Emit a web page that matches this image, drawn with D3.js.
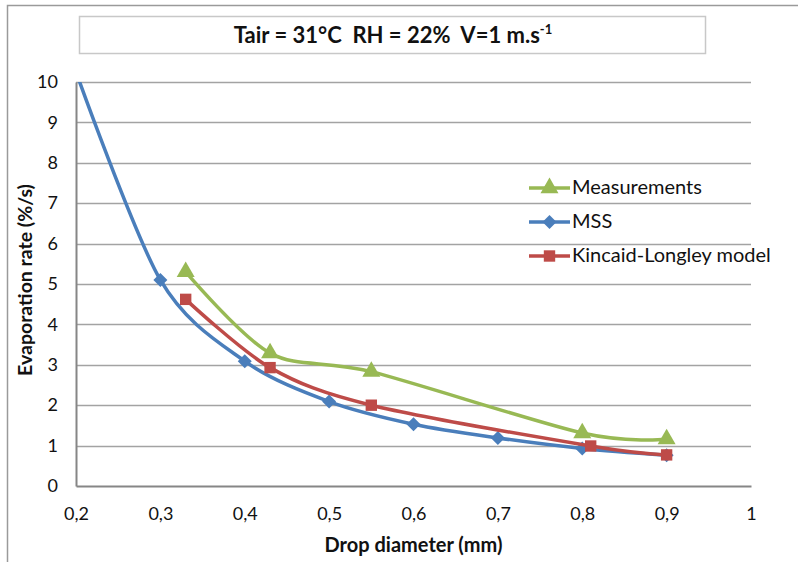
<!DOCTYPE html>
<html>
<head>
<meta charset="utf-8">
<script src="https://cdn.jsdelivr.net/npm/d3@7"></script>
<style>
  body { margin: 0; background: #fff; }
  svg { display: block; font-family: Lato, 'Open Sans', sans-serif; }
</style>
</head>
<body>
<div id="chart"></div>
<script>
const X_TICKS = [0.2, 0.3, 0.4, 0.5, 0.6, 0.7, 0.8, 0.9, 1]
const Y_TICKS = [0, 1, 2, 3, 4, 5, 6, 7, 8, 9, 10]

// MSS model: first point lies just above the axis max and is clipped
const MSS_X = [0.2, 0.3, 0.4, 0.5, 0.6, 0.7, 0.8, 0.9]
const MSS_Y = [10.25, 5.1, 3.09, 2.09, 1.53, 1.19, 0.93, 0.76]

const MEAS_X = [0.33, 0.43, 0.55, 0.8, 0.9]
const MEAS_Y = [5.3, 3.29, 2.83, 1.31, 1.16]

const KL_X = [0.33, 0.43, 0.55, 0.81, 0.9]
const KL_Y = [4.62, 2.93, 2.0, 0.99, 0.77]

const SERIES = [
  { name: 'Measurements', xs: MEAS_X, ys: MEAS_Y, color: '#98b954', marker: 'triangle' },
  { name: 'MSS', xs: MSS_X, ys: MSS_Y, color: '#4a7ebb', marker: 'diamond' },
  { name: 'Kincaid-Longley model', xs: KL_X, ys: KL_Y, color: '#be4b48', marker: 'square' }
]

const W = 798
const H = 562
const margin = { top: 82, right: 47, bottom: 76, left: 76 }

const svg = d3.select('#chart').append('svg')
  .attr('width', W)
  .attr('height', H)

// outer chart frame (only top and left visible in the crop)
svg.append('path')
  .attr('d', `M7.5,${H} V5.5 H${W}`)
  .attr('fill', 'none')
  .attr('stroke', '#9a9a9a')
  .attr('stroke-width', 1.5)

const x = d3.scaleLinear().domain([0.2, 1]).range([margin.left, W - margin.right])
const y = d3.scaleLinear().domain([0, 10]).range([H - margin.bottom, margin.top])

// title box
svg.append('rect')
  .attr('x', 79.5).attr('y', 16.5)
  .attr('width', 626).attr('height', 37)
  .attr('fill', '#fff')
  .attr('stroke', '#c8c8c8')
  .attr('stroke-width', 1.5)

const title = svg.append('text')
  .attr('x', 393).attr('y', 43)
  .attr('text-anchor', 'middle')
  .attr('font-size', 22)
  .attr('font-weight', 'bold')
  .attr('fill', '#111')
  .style('white-space', 'pre')
title.append('tspan').text('Tair = 31°C  RH = 22%  V=1 m.s')
title.append('tspan').attr('dy', -9).attr('font-size', 13).text('-1')

// gridlines
svg.append('g')
  .selectAll('line')
  .data(Y_TICKS.filter(d => d > 0))
  .join('line')
  .attr('x1', x(0.2)).attr('x2', x(1))
  .attr('y1', d => Math.round(y(d)) + 0.5).attr('y2', d => Math.round(y(d)) + 0.5)
  .attr('stroke', '#a3a3a3')
  .attr('stroke-width', 1.5)

// axes
const yAxis = svg.append('g')
  .attr('transform', `translate(${x(0.2)},0)`)
  .call(d3.axisLeft(y).tickValues(Y_TICKS).tickSize(0).tickPadding(18).tickFormat(d3.format('d')))
yAxis.select('.domain').attr('stroke', '#868686').attr('stroke-width', 2)
yAxis.selectAll('text').attr('font-size', 18).attr('fill', '#111').attr('font-family', 'Lato, sans-serif')

const xAxis = svg.append('g')
  .attr('transform', `translate(0,${y(0)})`)
  .call(d3.axisBottom(x).tickValues(X_TICKS).tickSize(0).tickPadding(21)
    .tickFormat(d => d === 1 ? '1' : d3.format('.1f')(d).replace('.', ',')))
xAxis.select('.domain').attr('stroke', '#868686').attr('stroke-width', 2)
xAxis.selectAll('text').attr('font-size', 18).attr('fill', '#111').attr('font-family', 'Lato, sans-serif')

svg.append('text')
  .attr('text-anchor', 'middle')
  .attr('transform', `translate(32, ${(y(0) + y(10)) / 2 - 4}) rotate(-90)`)
  .attr('font-size', 19.5)
  .attr('font-weight', 'bold')
  .attr('fill', '#111')
  .text('Evaporation rate (%/s)')

svg.append('text')
  .attr('x', (x(0.2) + x(1)) / 2)
  .attr('y', 552)
  .attr('text-anchor', 'middle')
  .attr('font-size', 20)
  .attr('font-weight', 'bold')
  .attr('fill', '#111')
  .text('Drop diameter (mm)')

// series
svg.append('clipPath').attr('id', 'plot-clip')
  .append('rect')
  .attr('x', x(0.2)).attr('y', y(10))
  .attr('width', x(1) - x(0.2)).attr('height', y(0) - y(10))

const symbolFor = m => m === 'triangle' ? d3.symbolTriangle : m === 'diamond' ? d3.symbolDiamond2 : d3.symbolSquare2
const sizeFor = m => m === 'triangle' ? 140 : m === 'diamond' ? 125 : 165

const plot = svg.append('g').attr('clip-path', 'url(#plot-clip)')
const line = d3.line()
  .x(d => x(d[0]))
  .y(d => y(d[1]))
  .curve(d3.curveCardinal.tension(0.1))

const order = [SERIES[1], SERIES[2], SERIES[0]]
order.forEach(s => {
  const pts = s.xs.map((v, i) => [v, s.ys[i]])
  plot.append('path')
    .datum(pts)
    .attr('d', line)
    .attr('fill', 'none')
    .attr('stroke', s.color)
    .attr('stroke-width', 3.5)
    .attr('stroke-linejoin', 'round')
  plot.append('g')
    .selectAll('path')
    .data(pts)
    .join('path')
    .attr('transform', d => `translate(${x(d[0])},${y(d[1])})`)
    .attr('d', d3.symbol().type(symbolFor(s.marker)).size(sizeFor(s.marker)))
    .attr('fill', s.color)
})

// legend
const legend = svg.append('g')
SERIES.forEach((s, i) => {
  const cy = 188 + i * 34
  legend.append('line')
    .attr('x1', 529).attr('x2', 570)
    .attr('y1', cy).attr('y2', cy)
    .attr('stroke', s.color)
    .attr('stroke-width', 3.5)
  legend.append('path')
    .attr('transform', `translate(549.5,${cy})`)
    .attr('d', d3.symbol().type(symbolFor(s.marker)).size(sizeFor(s.marker)))
    .attr('fill', s.color)
  legend.append('text')
    .attr('x', 572).attr('y', cy + 6)
    .attr('font-size', 20)
    .attr('fill', '#111')
    .text(s.name)
})
</script>
</body>
</html>
